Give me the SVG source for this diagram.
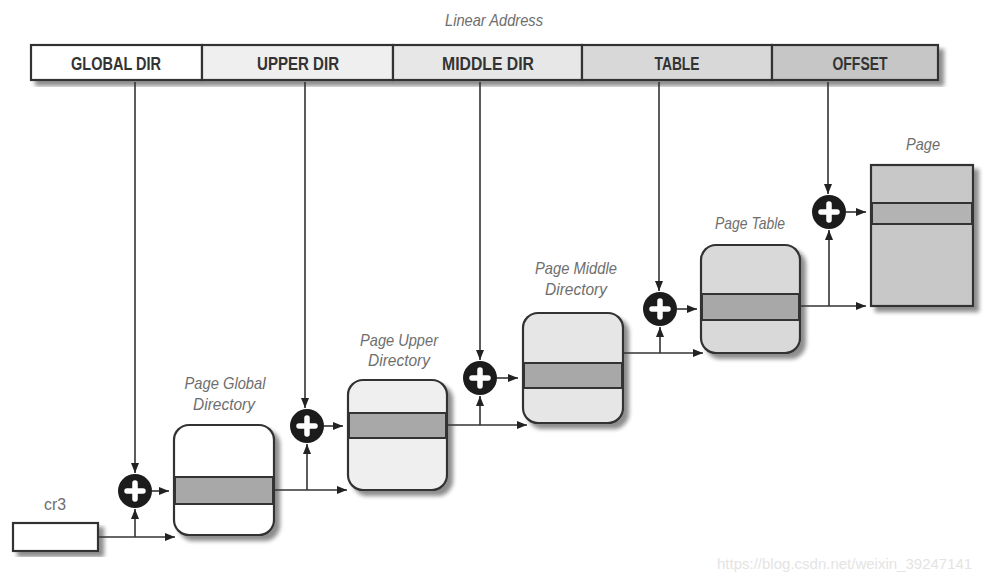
<svg xmlns="http://www.w3.org/2000/svg" width="995" height="581" viewBox="0 0 995 581">
<defs>
<filter id="sh" x="-10%" y="-10%" width="130%" height="130%">
<feGaussianBlur in="SourceAlpha" stdDeviation="2"/>
<feOffset dx="5" dy="5" result="b"/>
<feComponentTransfer><feFuncA type="linear" slope="0.45"/></feComponentTransfer>
<feMerge><feMergeNode/><feMergeNode in="SourceGraphic"/></feMerge>
</filter>
<marker id="ah" viewBox="0 0 10 10" refX="10" refY="5" markerWidth="10" markerHeight="10" markerUnits="userSpaceOnUse" orient="auto">
<path d="M0,1 L10,5 L0,9 z" fill="#222"/>
</marker>
<g id="plus">
<circle r="17" fill="#1c1c1c"/>
<path d="M-8,0 H8 M0,-8 V8" stroke="#fff" stroke-width="5.5" stroke-linecap="round"/>
</g>
</defs>
<style>
.box{stroke:#333;stroke-width:2.2}
.band{fill:#a8a8a8;stroke:#333;stroke-width:2}
.fl{font-family:"Liberation Sans Narrow","Liberation Sans",Arial,sans-serif;font-weight:bold;font-size:18px;fill:#333;text-anchor:middle}
.it{font-family:"Liberation Sans Narrow","Liberation Sans",Arial,sans-serif;font-style:italic;font-size:17px;fill:#6e6e6e;text-anchor:middle}
.up{font-family:"Liberation Sans Narrow","Liberation Sans",Arial,sans-serif;font-size:17px;fill:#6e6e6e;text-anchor:middle}
.ln{stroke:#333;stroke-width:1.6;fill:none}
.wm{font-family:"Liberation Sans",Arial,sans-serif;font-size:15px;fill:#e4e4e4}
</style>
<rect width="995" height="581" fill="#ffffff"/>

<text class="it" x="494" y="26" textLength="98" lengthAdjust="spacingAndGlyphs">Linear Address</text>

<g id="linear-address" filter="url(#sh)">
<rect x="31" y="45" width="171" height="35" fill="#ffffff" class="box"/>
<rect x="202" y="45" width="191" height="35" fill="#efefef" class="box"/>
<rect x="393" y="45" width="189" height="35" fill="#e7e7e7" class="box"/>
<rect x="582" y="45" width="190" height="35" fill="#d8d8d8" class="box"/>
<rect x="772" y="45" width="166" height="35" fill="#c6c6c6" class="box"/>
</g>
<text class="fl" x="116" y="70" textLength="90" lengthAdjust="spacingAndGlyphs">GLOBAL DIR</text>
<text class="fl" x="298" y="70" textLength="82" lengthAdjust="spacingAndGlyphs">UPPER DIR</text>
<text class="fl" x="488" y="70" textLength="92" lengthAdjust="spacingAndGlyphs">MIDDLE DIR</text>
<text class="fl" x="677" y="70" textLength="45" lengthAdjust="spacingAndGlyphs">TABLE</text>
<text class="fl" x="860" y="70" textLength="55" lengthAdjust="spacingAndGlyphs">OFFSET</text>

<g id="cr3">
<rect x="13" y="523" width="85" height="28" fill="#fff" class="box" filter="url(#sh)"/>
<text class="up" x="55" y="510" textLength="22" lengthAdjust="spacingAndGlyphs">cr3</text>
</g>

<g id="pgd">
<text class="it" x="225" y="389" textLength="81" lengthAdjust="spacingAndGlyphs">Page Global</text>
<text class="it" x="224" y="410" textLength="62" lengthAdjust="spacingAndGlyphs">Directory</text>
<rect x="174" y="425" width="100" height="110" rx="15" fill="#ffffff" class="box" filter="url(#sh)"/>
<rect x="175" y="477" width="98" height="27" class="band"/>
</g>

<g id="pud">
<text class="it" x="399" y="346" textLength="78" lengthAdjust="spacingAndGlyphs">Page Upper</text>
<text class="it" x="399" y="366" textLength="62" lengthAdjust="spacingAndGlyphs">Directory</text>
<rect x="348" y="380" width="99" height="110" rx="15" fill="#efefef" class="box" filter="url(#sh)"/>
<rect x="349" y="413" width="97" height="25" class="band"/>
</g>

<g id="pmd">
<text class="it" x="576" y="274" textLength="82" lengthAdjust="spacingAndGlyphs">Page Middle</text>
<text class="it" x="576" y="295" textLength="62" lengthAdjust="spacingAndGlyphs">Directory</text>
<rect x="523" y="313" width="100" height="110" rx="15" fill="#e6e6e6" class="box" filter="url(#sh)"/>
<rect x="524" y="363" width="98" height="25" class="band"/>
</g>

<g id="pt">
<text class="it" x="750" y="229" textLength="70" lengthAdjust="spacingAndGlyphs">Page Table</text>
<rect x="701" y="245" width="99" height="108" rx="15" fill="#d9d9d9" class="box" filter="url(#sh)"/>
<rect x="702" y="294" width="97" height="26" class="band"/>
</g>

<g id="page">
<text class="it" x="923" y="150" textLength="34" lengthAdjust="spacingAndGlyphs">Page</text>
<rect x="871" y="165" width="102" height="141" fill="#c8c8c8" class="box" filter="url(#sh)"/>
<rect x="872" y="203" width="100" height="21" class="band" style="fill:#b3b3b3"/>
</g>

<g id="adders">
<use href="#plus" x="135" y="491"/>
<use href="#plus" x="307" y="426"/>
<use href="#plus" x="480" y="378"/>
<use href="#plus" x="660" y="309"/>
<use href="#plus" x="829" y="212"/>
</g>

<g id="connectors">
<path class="ln" d="M135,82 V473" marker-end="url(#ah)"/>
<path class="ln" d="M305,82 V408" marker-end="url(#ah)"/>
<path class="ln" d="M480,82 V360" marker-end="url(#ah)"/>
<path class="ln" d="M659,82 V291" marker-end="url(#ah)"/>
<path class="ln" d="M828,82 V194" marker-end="url(#ah)"/>

<path class="ln" d="M98,537 H175" marker-end="url(#ah)"/>
<path class="ln" d="M135,537 V509" marker-end="url(#ah)"/>
<path class="ln" d="M152,491 H169" marker-end="url(#ah)"/>

<path class="ln" d="M274,490 H347" marker-end="url(#ah)"/>
<path class="ln" d="M307,490 V444" marker-end="url(#ah)"/>
<path class="ln" d="M324,426 H343" marker-end="url(#ah)"/>

<path class="ln" d="M447,425 H527" marker-end="url(#ah)"/>
<path class="ln" d="M480,425 V396" marker-end="url(#ah)"/>
<path class="ln" d="M497,378 H518" marker-end="url(#ah)"/>

<path class="ln" d="M623,353 H703" marker-end="url(#ah)"/>
<path class="ln" d="M660,353 V327" marker-end="url(#ah)"/>
<path class="ln" d="M677,309 H697" marker-end="url(#ah)"/>

<path class="ln" d="M800,306 H866" marker-end="url(#ah)"/>
<path class="ln" d="M829,306 V230" marker-end="url(#ah)"/>
<path class="ln" d="M846,212 H866" marker-end="url(#ah)"/>
</g>

<text class="wm" x="717" y="569">https://blog.csdn.net/weixin_39247141</text>
</svg>
